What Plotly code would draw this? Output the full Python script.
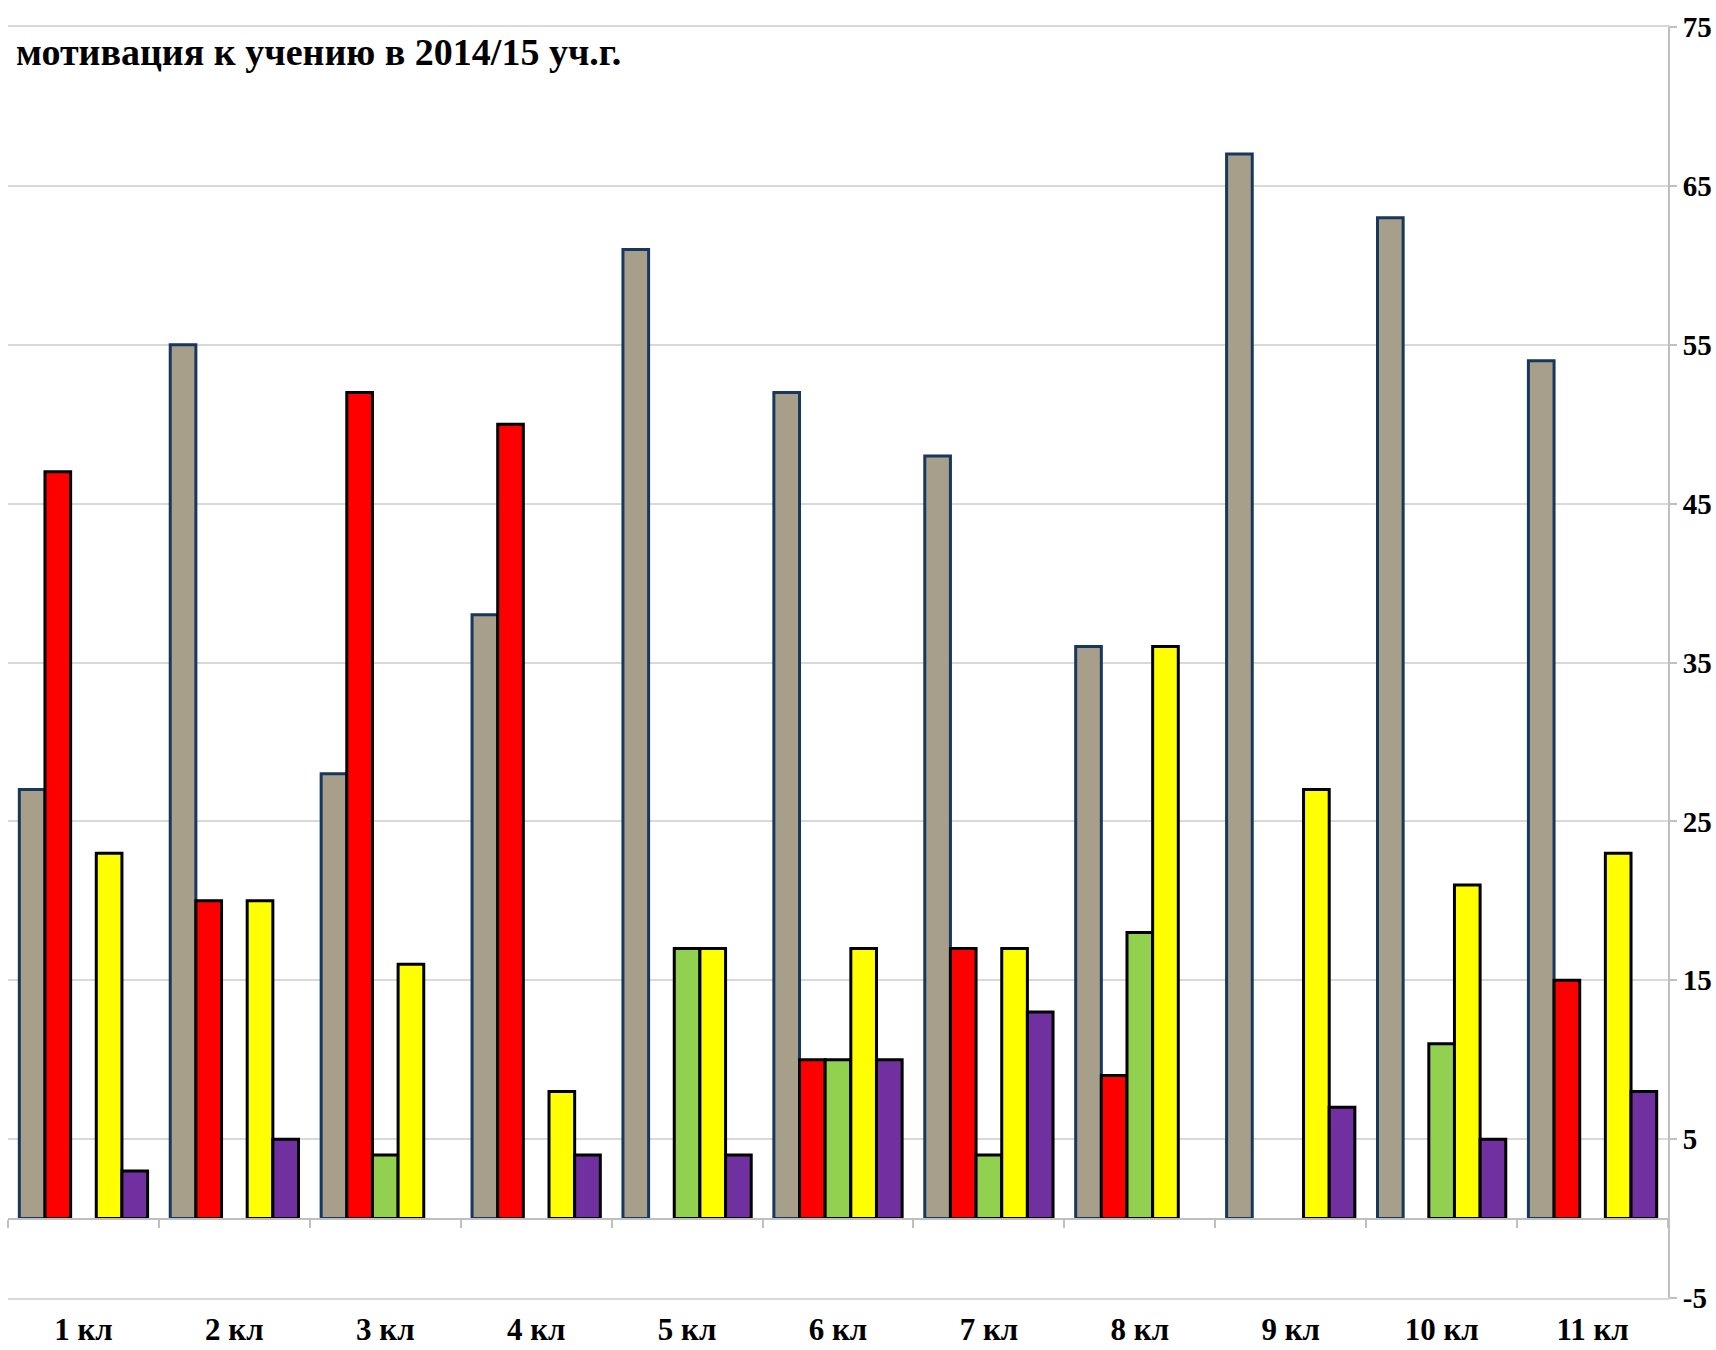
import plotly.graph_objects as go

categories = ["1 кл", "2 кл", "3 кл", "4 кл", "5 кл", "6 кл", "7 кл", "8 кл", "9 кл", "10 кл", "11 кл"]
series_gray = [27, 55, 28, 38, 61, 52, 48, 36, 67, 63, 54]
series_red = [47, 20, 52, 50, None, 10, 17, 9, None, None, 15]
series_green = [None, None, 4, None, 17, 10, 4, 18, None, 11, None]
series_yellow = [23, 20, 16, 8, 17, 17, 17, 36, 27, 21, 23]
series_purple = [3, 5, None, 4, 4, 10, 13, None, 7, 5, 8]
y_ticks = [-5, 5, 15, 25, 35, 45, 55, 65, 75]
y_tick_labels = ["-5", "5", "15", "25", "35", "45", "55", "65", "75"]
title_text = "мотивация к учению в 2014/15 уч.г."

FONT = "Liberation Serif"
series = [
    ("gray", series_gray, "#A89F8A", "#17375E"),
    ("red", series_red, "#FF0000", "#000000"),
    ("green", series_green, "#92D050", "#000000"),
    ("yellow", series_yellow, "#FFFF00", "#000000"),
    ("purple", series_purple, "#7030A0", "#000000"),
]

fig = go.Figure()
for name, vals, fill, line in series:
    fig.add_trace(go.Bar(
        x=categories, y=vals, name=name,
        marker=dict(color=fill, line=dict(color=line, width=3)),
        xaxis="x", yaxis="y",
    ))

# invisible trace to give the zero-line category axis its categories
fig.add_trace(go.Scatter(x=categories, y=[None] * len(categories), xaxis="x2", yaxis="y",
                         mode="markers", showlegend=False, hoverinfo="skip"))

fig.update_layout(
    width=1716, height=1350,
    paper_bgcolor="white", plot_bgcolor="white",
    margin=dict(l=8, r=48, t=27, b=52, autoexpand=False),
    barmode="group", bargap=0.15, bargroupgap=0,
    showlegend=False,
    font=dict(family=FONT, color="#000000"),
    xaxis=dict(
        type="category", categoryorder="array", categoryarray=categories,
        range=[-0.5, len(categories) - 0.5], automargin=False,
        showgrid=False, showline=True, mirror=True, linecolor="#D9D9D9", linewidth=2,
        ticks="",
        tickfont=dict(family=FONT, size=31, color="#000000", weight="bold"),
        ticklabelstandoff=3,
    ),
    xaxis2=dict(
        type="category", categoryorder="array", categoryarray=categories,
        range=[-0.5, len(categories) - 0.5], automargin=False,
        overlaying="x", anchor="free", position=5 / 80,
        showline=True, linecolor="#BFBFBF", linewidth=2,
        ticks="outside", tickson="boundaries", ticklen=8, tickcolor="#BFBFBF", tickwidth=2,
        showticklabels=False, showgrid=False,
    ),
    yaxis=dict(
        side="right", range=[-5, 75], tickvals=y_ticks, ticktext=y_tick_labels, automargin=False,
        showgrid=True, gridcolor="#D9D9D9", gridwidth=2,
        zeroline=False,
        showline=True, linecolor="#BFBFBF", linewidth=2,
        ticks="outside", ticklen=7, tickcolor="#BFBFBF", tickwidth=2,
        tickfont=dict(family=FONT, size=29, color="#000000", weight="bold"),
    ),
    annotations=[dict(
        text=title_text, xref="paper", yref="paper", x=0, y=1, xshift=6, yshift=-2,
        xanchor="left", yanchor="top", showarrow=False,
        font=dict(family=FONT, size=38, color="#000000", weight="bold"),
    )],
)

fig.write_html("out.html", config={"displayModeBar": False},
               post_script="document.body.style.margin='0';document.body.style.overflow='hidden';")
